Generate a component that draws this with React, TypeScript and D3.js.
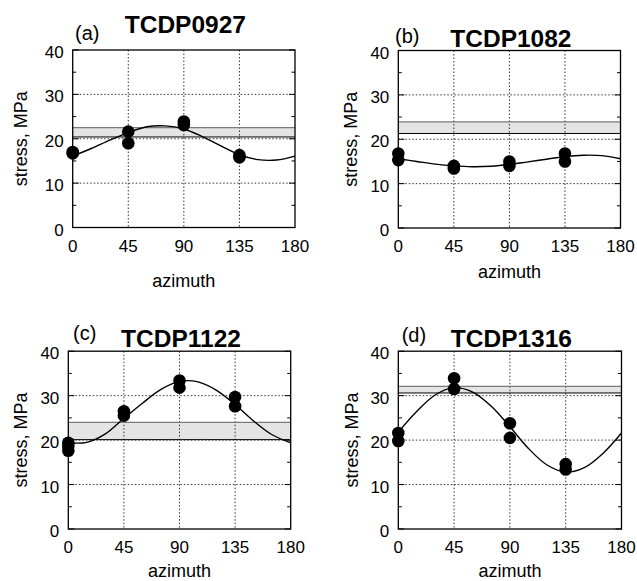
import React from "react";
import * as d3 from "d3";

// ---------- data ----------
const panelIds = ["(a)", "(b)", "(c)", "(d)"];
const panelTitles = ["TCDP0927", "TCDP1082", "TCDP1122", "TCDP1316"];
const azimuthTicks = [0, 45, 90, 135, 180];
const stressTicks = [0, 10, 20, 30, 40];
const stressMinorTicks = [5, 15, 25, 35];

// measured points [azimuth, stress]
const pointsA = [[0, 17.0], [0, 16.7], [45, 21.6], [45, 19.0], [90, 23.9], [90, 23.1], [135, 16.3], [135, 15.8]];
const pointsB = [[0, 16.8], [0, 15.3], [45, 14.0], [45, 13.4], [90, 15.0], [90, 14.0], [135, 16.8], [135, 15.0]];
const pointsC = [[0, 19.4], [0, 18.6], [0, 17.6], [45, 26.5], [45, 25.5], [90, 33.4], [90, 31.8], [135, 29.7], [135, 27.6]];
const pointsD = [[0, 21.6], [0, 19.8], [45, 33.9], [45, 31.5], [90, 23.8], [90, 20.5], [135, 14.6], [135, 13.4]];

// fitted curve
const curveAzimuths = [0, 15, 30, 45, 60, 75, 90, 105, 120, 135, 150, 165, 180];
const curveA = [16.1, 17.8, 19.7, 21.4, 22.7, 22.9, 22.2, 20.5, 18.4, 16.4, 15.3, 15.2, 16.1];
const curveB = [15.6, 15.0, 14.4, 14.0, 13.8, 13.9, 14.3, 14.9, 15.5, 16.1, 16.4, 16.3, 15.6];
const curveC = [19.4, 19.5, 21.4, 24.9, 28.3, 31.4, 33.2, 33.1, 31.2, 28.0, 24.3, 21.2, 19.4];
const curveD = [21.8, 26.5, 30.2, 31.8, 30.8, 27.6, 23.0, 18.1, 14.4, 12.8, 13.8, 17.0, 21.6];

// grey band [lower, upper]
const bandA = [20.4, 22.5];
const bandB = [21.3, 23.9];
const bandC = [20.1, 24.0];
const bandD = [30.6, 32.1];

const allPoints = [pointsA, pointsB, pointsC, pointsD];
const allCurves = [curveA, curveB, curveC, curveD];
const allBands = [bandA, bandB, bandC, bandD];

// ---------- layout ----------
const layout = [
  { x: 72.7, y: 50, w: 222.3, h: 177.5, ylab: 27, xlab: 286.5, idX: 75, idY: 40, titleY: 33 },
  { x: 398.3, y: 50.5, w: 222.2, h: 177.5, ylab: 357, xlab: 278, idX: 395, idY: 42.5, titleY: 46.5 },
  { x: 68.3, y: 351.2, w: 222.4, h: 177.8, ylab: 27, xlab: 576.5, idX: 73, idY: 340, titleY: 346.5 },
  { x: 398.3, y: 351.2, w: 223.2, h: 177.8, ylab: 358, xlab: 576.5, idX: 401.7, idY: 341.5, titleY: 346.5 },
];

const FONT = "'Liberation Sans', Arial, Helvetica, sans-serif";

function Panel({ i }: { i: number }) {
  const L = layout[i];
  const x = d3.scaleLinear().domain([0, 180]).range([L.x, L.x + L.w]);
  const y = d3.scaleLinear().domain([0, 40]).range([L.y + L.h, L.y]);
  const band = allBands[i];
  const curveData = curveAzimuths.map((a, k) => [a, allCurves[i][k]] as [number, number]);
  const line = d3
    .line<[number, number]>()
    .x((d) => x(d[0]))
    .y((d) => y(d[1]))
    .curve(d3.curveCatmullRom.alpha(0.5));
  const grid = { stroke: "#000", strokeWidth: 0.8, strokeDasharray: "1.5,2" };
  const minorLen = 3.5;
  return (
    <g>
      {/* band */}
      <rect x={L.x} y={y(band[1])} width={L.w} height={y(band[0]) - y(band[1])} fill="#e4e4e4" />
      {/* grid */}
      {azimuthTicks.slice(1, -1).map((t) => (
        <line key={"gx" + t} x1={x(t)} x2={x(t)} y1={L.y} y2={L.y + L.h} {...grid} />
      ))}
      {stressTicks.slice(1, -1).map((t) => (
        <line key={"gy" + t} x1={L.x} x2={L.x + L.w} y1={y(t)} y2={y(t)} {...grid} />
      ))}
      <line x1={L.x} x2={L.x + L.w} y1={y(band[1])} y2={y(band[1])} stroke="#7a7a7a" strokeWidth={1.2} />
      <line x1={L.x} x2={L.x + L.w} y1={y(band[0])} y2={y(band[0])} stroke="#000" strokeWidth={1} />
      {/* curve */}
      <path d={line(curveData) || ""} fill="none" stroke="#000" strokeWidth={1.4} />
      {/* points */}
      {allPoints[i].map((p, k) => (
        <circle key={"p" + k} cx={x(p[0])} cy={y(p[1])} r={6.3} fill="#000" />
      ))}
      {/* border */}
      <rect x={L.x} y={L.y} width={L.w} height={L.h} fill="none" stroke="#000" strokeWidth={1.3} />
      {/* minor ticks */}
      {stressMinorTicks.map((t) => (
        <g key={"mt" + t}>
          <line x1={L.x} x2={L.x + minorLen} y1={y(t)} y2={y(t)} stroke="#000" strokeWidth={1} />
          <line x1={L.x + L.w} x2={L.x + L.w - minorLen} y1={y(t)} y2={y(t)} stroke="#000" strokeWidth={1} />
        </g>
      ))}
      {stressTicks.map((t) => (
        <g key={"Mt" + t}>
          <line x1={L.x} x2={L.x + 6} y1={y(t)} y2={y(t)} stroke="#000" strokeWidth={1} />
          <line x1={L.x + L.w} x2={L.x + L.w - 6} y1={y(t)} y2={y(t)} stroke="#000" strokeWidth={1} />
        </g>
      ))}
      {/* tick labels */}
      {stressTicks.map((t) => (
        <text key={"yl" + t} x={L.x - 9} y={y(t) + 8} textAnchor="end" fontSize={17} fontFamily={FONT}>
          {t}
        </text>
      ))}
      {azimuthTicks.map((t) => (
        <text key={"xl" + t} x={x(t)} y={L.y + L.h + 24} textAnchor="middle" fontSize={17} fontFamily={FONT}>
          {t}
        </text>
      ))}
      {/* axis labels */}
      <text x={x(90)} y={L.xlab} textAnchor="middle" fontSize={18} fontFamily={FONT}>
        azimuth
      </text>
      <text
        transform={`translate(${L.ylab},${L.y + L.h / 2}) rotate(-90)`}
        textAnchor="middle"
        fontSize={18}
        fontFamily={FONT}
      >
        stress, MPa
      </text>
      {/* titles */}
      <text x={L.idX} y={L.idY} fontSize={20} fontFamily={FONT}>
        {panelIds[i]}
      </text>
      <text x={x(90) + 1.5} y={L.titleY} textAnchor="middle" fontSize={24.5} fontWeight="bold" fontFamily={FONT}>
        {panelTitles[i]}
      </text>
    </g>
  );
}

export default function App() {
  return (
    <svg
      width={637}
      height={581}
      viewBox="0 0 637 581"
      style={{ position: "absolute", left: 0, top: 0, background: "#fff" }}
    >
      <rect width={637} height={581} fill="#fff" />
      {panelIds.map((_, i) => (
        <Panel key={i} i={i} />
      ))}
    </svg>
  );
}
